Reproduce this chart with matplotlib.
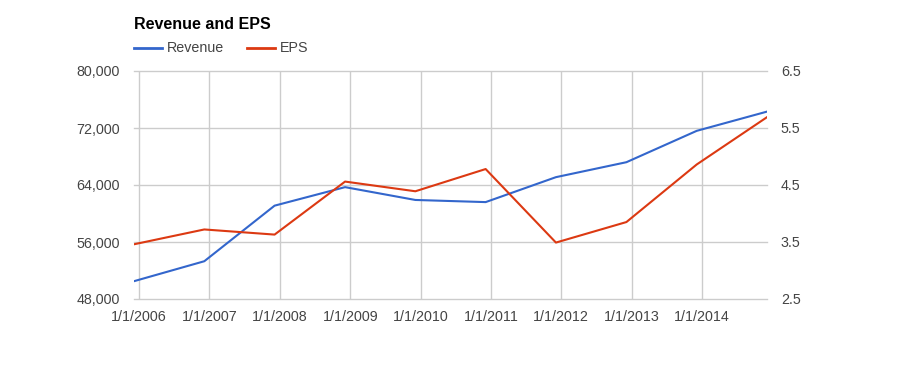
import matplotlib
matplotlib.use('Agg')

import matplotlib.pyplot as plt
import numpy as np
from matplotlib.lines import Line2D

# data
dates = np.array(['2005-12-05', '2006-12-05', '2007-12-05', '2008-12-05',
                  '2009-12-05', '2010-12-05', '2011-12-05', '2012-12-05',
                  '2013-12-05', '2014-12-05'], dtype='datetime64[D]')
revenue = [50500, 53300, 61100, 63700, 61900, 61600, 65100, 67200, 71600, 74300]
eps = [3.46, 3.72, 3.63, 4.56, 4.39, 4.78, 3.49, 3.85, 4.86, 5.69]

rev_ticks = [48000, 56000, 64000, 72000, 80000]
eps_ticks = [2.5, 3.5, 4.5, 5.5, 6.5]
year_ticks = np.array(['%d-01-01' % y for y in range(2006, 2015)], dtype='datetime64[D]')

blue = '#3366cc'
red = '#dc3912'
grid = '#cccccc'
txt = '#444444'

plt.rcParams['font.family'] = ['Liberation Sans', 'DejaVu Sans']

fig = plt.figure(figsize=(9, 3.71), dpi=100)
ax1 = fig.add_axes([134 / 900, 72 / 371, 633 / 900, 228 / 371])
ax2 = ax1.twinx()

ax1.plot(dates, revenue, color=blue, lw=1.5, solid_joinstyle='round', zorder=3)
ax2.plot(dates, eps, color=red, lw=1.5, solid_joinstyle='round', zorder=3)

ax1.set_xlim(dates[0], dates[-1])
ax1.set_ylim(rev_ticks[0], rev_ticks[-1])
ax2.set_ylim(eps_ticks[0], eps_ticks[-1])

ax1.set_yticks(rev_ticks)
ax1.set_yticklabels(['{:,}'.format(v) for v in rev_ticks])
ax2.set_yticks(eps_ticks)
ax2.set_yticklabels(['%.1f' % v for v in eps_ticks])
ax1.set_xticks(year_ticks)
ax1.set_xticklabels(['1/1/%d' % y for y in range(2006, 2015)])

ax1.grid(True, color=grid, lw=1)
ax1.set_axisbelow(True)
# keep the edge gridlines whole
for gl in ax1.get_ygridlines():
    gl.set_clip_on(False)
for a in (ax1, ax2):
    for s in a.spines.values():
        s.set_visible(False)
ax1.tick_params(axis='both', length=0, labelsize=10.3, labelcolor=txt)
ax1.tick_params(axis='y', pad=10)
ax1.tick_params(axis='x', pad=8)
ax2.tick_params(axis='y', length=0, labelsize=10.3, labelcolor=txt, pad=10)

# title and legend
fig.text(134 / 900, 1 - 29 / 371, 'Revenue and EPS', fontsize=11.5, fontweight='bold',
         color='#000000', ha='left', va='baseline')
ly = 1 - 47.5 / 371
fig.add_artist(Line2D([134 / 900, 162 / 900], [ly, ly], color=blue, lw=2))
fig.text(167 / 900, ly, 'Revenue', fontsize=10.3, color=txt, ha='left', va='center')
fig.add_artist(Line2D([247 / 900, 275 / 900], [ly, ly], color=red, lw=2))
fig.text(280 / 900, ly, 'EPS', fontsize=10.3, color=txt, ha='left', va='center')

fig.savefig('out.png', dpi=100)
